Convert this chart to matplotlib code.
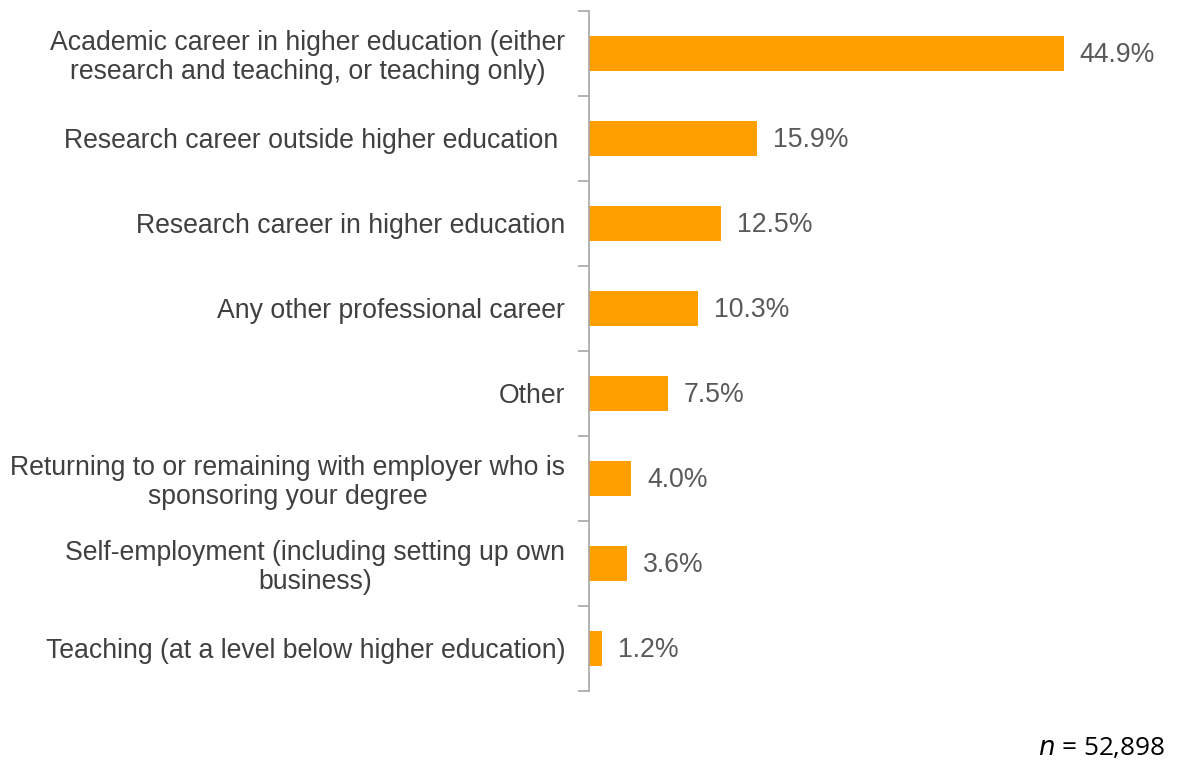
import matplotlib
matplotlib.use('Agg')
import matplotlib.pyplot as plt
import numpy as np

plt.rcParams['font.family'] = ['Liberation Sans', 'DejaVu Sans']

categories = [
    'Academic career in higher education (either\nresearch and teaching, or teaching only)',
    'Research career outside higher education ',
    'Research career in higher education',
    'Any other professional career',
    'Other',
    'Returning to or remaining with employer who is\nsponsoring your degree',
    'Self-employment (including setting up own\nbusiness)',
    'Teaching (at a level below higher education)',
]
values = [44.9, 15.9, 12.5, 10.3, 7.5, 4.0, 3.6, 1.2]
sample_size = '52,898'

bar_color = '#FFA000'
text_color = '#404040'
axis_color = '#A6A6A6'

fig = plt.figure(figsize=(11.77, 7.62), dpi=100)
ax = fig.add_axes([0.5004, 0.0932, 0.449, 0.8924])

y = np.arange(len(categories))
ax.barh(y, values, height=0.41, color=bar_color, edgecolor='none')

ax.set_ylim(len(categories) - 0.5, -0.5)
ax.set_xlim(0, 50)

for yi, v in zip(y, values):
    ax.text(v + 1.5, yi + 0.02, f'{v:.1f}%', va='center', ha='left',
            fontsize=19.2, color='#595959')

# labels on the categories, tick marks between them
ax.set_yticks(y)
ax.set_yticklabels(categories, fontsize=19.2, color=text_color, ha='right',
                   multialignment='center', linespacing=1.13)
ax.tick_params(axis='y', which='major', length=0, pad=17)
ax.set_yticks(np.arange(len(categories) + 1) - 0.5, minor=True)
ax.tick_params(axis='y', which='minor', length=8, width=1.2, color=axis_color)
ax.set_xticks([])

for side in ['top', 'right', 'bottom']:
    ax.spines[side].set_visible(False)
ax.spines['left'].set_color(axis_color)
ax.spines['left'].set_linewidth(1.2)

fig.text(0.99, 0.009, r'$\it{n}$ = ' + sample_size, ha='right', va='baseline',
         fontsize=18.8, color='#000000', family=['Open Sans', 'DejaVu Sans'])

fig.savefig('out.png', dpi=100)
